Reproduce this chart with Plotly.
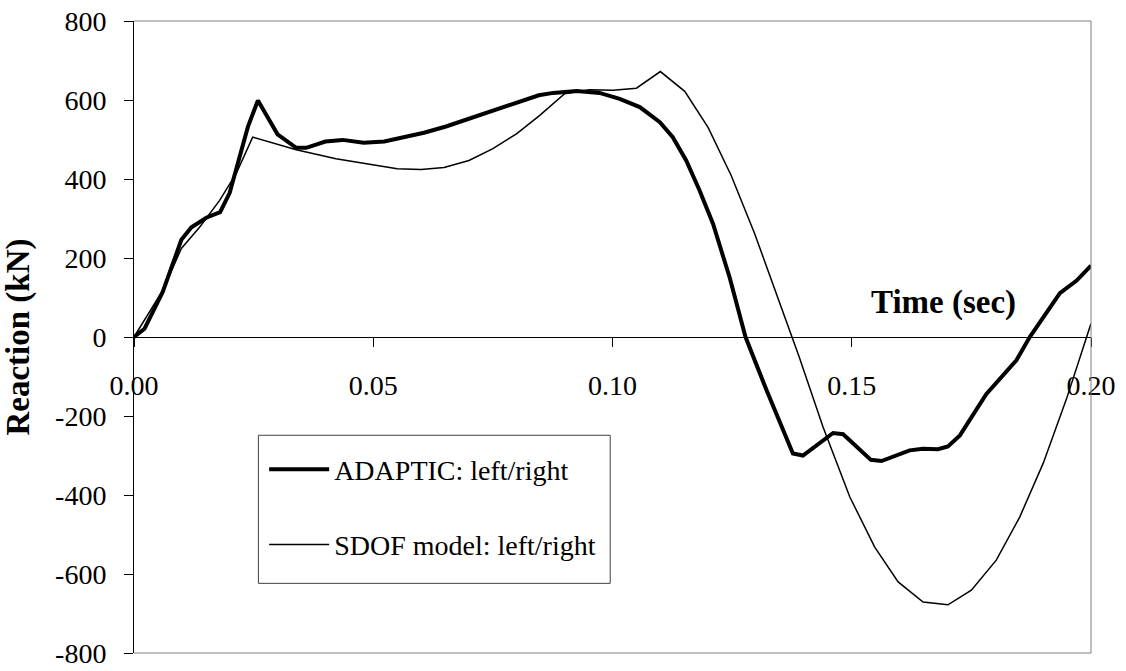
import plotly.graph_objects as go

# ---- data ----
adaptic_t = [0.0, 0.0022, 0.006, 0.0099, 0.012, 0.0151, 0.018, 0.020, 0.0238, 0.0259,
             0.030, 0.0339, 0.036, 0.040, 0.0436, 0.048, 0.0523, 0.0561, 0.0606, 0.0652,
             0.070, 0.075, 0.080, 0.0846, 0.0876, 0.0925, 0.0973, 0.1015, 0.1057, 0.1099,
             0.1126, 0.1154, 0.1182, 0.121, 0.1245, 0.1278, 0.1322, 0.1377, 0.1398, 0.1461,
             0.1482, 0.1540, 0.1562, 0.1621, 0.1649, 0.168, 0.1701, 0.1726, 0.1781, 0.1844,
             0.1872, 0.1935, 0.197, 0.200]
adaptic_v = [0, 21, 114, 246, 278, 302, 316, 365, 532, 599,
             513, 479, 479, 495, 499, 492, 495, 505, 517, 533,
             552, 574, 594, 612, 618, 623, 618, 603, 582, 544,
             506, 447, 371, 287, 150, 0, -135, -295, -300, -243,
             -246, -311, -314, -287, -283, -284, -277, -249, -145, -59,
             0, 111, 143, 181]

sdof_t = [0.0, 0.0033, 0.006, 0.0099, 0.0137, 0.0179, 0.0214, 0.0248, 0.0339, 0.0422,
          0.0499, 0.055, 0.060, 0.0648, 0.070, 0.075, 0.080, 0.0848, 0.090, 0.0952,
          0.1001, 0.105, 0.110, 0.1151, 0.120, 0.1248, 0.1297, 0.1343, 0.139, 0.144,
          0.1496, 0.1548, 0.1597, 0.1649, 0.1701, 0.175, 0.1802, 0.1851, 0.190, 0.1949,
          0.200]
sdof_v = [0, 63, 118, 224, 278, 346, 415, 506, 474, 451,
          437, 426, 424, 429, 447, 477, 515, 561, 616, 626,
          625, 630, 672, 622, 530, 409, 262, 105, -50, -228,
          -405, -532, -620, -671, -678, -641, -565, -456, -320, -156,
          34]

x_ticks = [0.0, 0.05, 0.10, 0.15, 0.20]
x_ticklabels = ["0.00", "0.05", "0.10", "0.15", "0.20"]
y_ticks = [-800, -600, -400, -200, 0, 200, 400, 600, 800]
y_ticklabels = ["-800", "-600", "-400", "-200", "0", "200", "400", "600", "800"]

series_names = ["ADAPTIC: left/right", "SDOF model: left/right"]

FONT = "Liberation Serif, Times New Roman, serif"

fig = go.Figure()
fig.add_trace(go.Scatter(x=adaptic_t, y=adaptic_v, mode="lines", name=series_names[0],
                         legendgroup="a", line=dict(color="black", width=4)))
fig.add_trace(go.Scatter(x=sdof_t, y=sdof_v, mode="lines", name=series_names[1],
                         legendgroup="b", line=dict(color="black", width=1.5)))

fig.update_layout(
    width=1126, height=671,
    margin=dict(l=134, r=35, t=21, b=18, autoexpand=False),
    paper_bgcolor="white", plot_bgcolor="white",
    font=dict(family=FONT, color="black", size=28),
    showlegend=True,
    legend=dict(x=0.136, y=0.33, xanchor="left", yanchor="top",
                bgcolor="rgba(0,0,0,0)", borderwidth=0,
                font=dict(family=FONT, size=28, color="black"),
                tracegroupgap=36, itemwidth=60),
    xaxis=dict(range=[0, 0.2], tickvals=x_ticks, ticktext=x_ticklabels,
               anchor="free", position=0.5, showline=True, linecolor="black",
               linewidth=1, ticks="outside", ticklen=9, tickcolor="black",
               showgrid=False, zeroline=False, ticklabelstandoff=14,
               tickfont=dict(family=FONT, size=28, color="black")),
    yaxis=dict(range=[-800, 800], tickvals=y_ticks, ticktext=y_ticklabels,
               showline=True, linecolor="black", linewidth=1, ticks="outside",
               ticklen=9, tickcolor="black", showgrid=False, zeroline=False,
               ticklabelstandoff=12,
               tickfont=dict(family=FONT, size=28, color="black"),
               title=dict(text="<b>Reaction (kN)</b>", standoff=16,
                          font=dict(family=FONT, size=33, color="black"))),
    shapes=[
        dict(type="path", xref="paper", yref="paper",
             path="M 0,1 L 1,1 L 1,0 L 0,0", line=dict(color="#808080", width=1),
             layer="above"),
        dict(type="rect", xref="paper", yref="paper",
             x0=0.130, x1=0.4976, y0=0.1102, y1=0.3445,
             line=dict(color="#404040", width=1), fillcolor="white", layer="above"),
    ],
    annotations=[
        dict(text="<b>Time (sec)</b>", xref="paper", yref="paper", x=0.846, y=0.555,
             xanchor="center", yanchor="middle", showarrow=False,
             font=dict(family=FONT, size=33, color="black")),
    ],
)

fig.write_html("out.html")
